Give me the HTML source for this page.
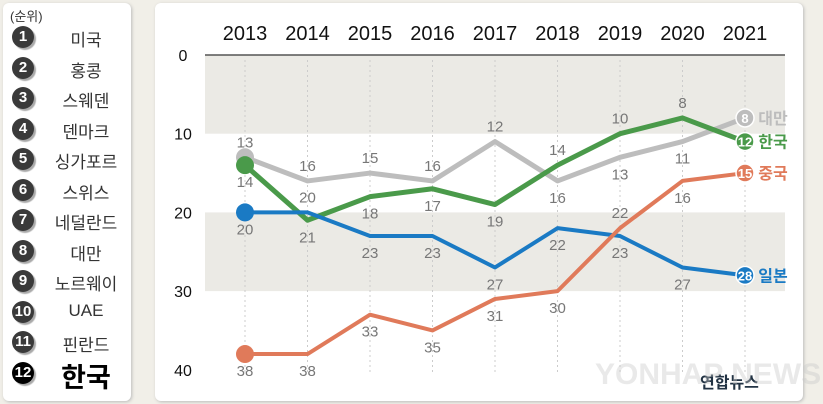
<!DOCTYPE html>
<html><head><meta charset="utf-8"><style>
body{margin:0;width:823px;height:404px;background:#f1efe8;font-family:"Liberation Sans","Noto Sans CJK KR",sans-serif;overflow:hidden;position:relative}
#left{position:absolute;left:3px;top:3px;width:128px;height:398px;background:#fff;border-radius:6px;box-shadow:1px 1px 3px #bbb}
#right{position:absolute;left:155px;top:3px;width:648px;height:398px;background:#fff;border-radius:6px;box-shadow:1px 1px 3px #bbb}
.row{position:absolute;left:10px;width:118px;height:26px;font-size:17px;color:#333}
.num{position:absolute;left:2px;top:2px;width:22px;height:22px;border-radius:50%;background:#3a3a3a;color:#fff;font-size:15px;text-align:center;line-height:22px;font-weight:bold;box-shadow:2px 2px 1px #aaa}
.nm{position:absolute;left:36px;width:80px;text-align:center;top:2px}
</style></head><body>
<div id="left"></div>
<div id="right"></div>
<div style="position:absolute;left:10px;top:6px;font-size:13px;color:#333">(순위)</div>
<div id="rows"></div>
<svg id="chart" width="823" height="404" style="position:absolute;left:0;top:0"></svg>
<script>
const countries=["미국","홍콩","스웨덴","덴마크","싱가포르","스위스","네덜란드","대만","노르웨이","UAE","핀란드","한국"];
const rows=document.getElementById('rows');
countries.forEach((c,i)=>{const d=document.createElement('div');d.className='row';d.style.top=(24+i*30.5)+'px';


const last=i===11;
d.innerHTML='<div class="num" style="'+(last?'background:#000;':'')+'">'+(i+1)+'</div><div class="nm" style="'+(last?'font-size:27px;font-weight:bold;color:#000;top:-4px':'')+'">'+c+'</div>';rows.appendChild(d);});

const years=["2013","2014","2015","2016","2017","2018","2019","2020","2021"];
const yTicks=[0,10,20,30,40];
const taiwan=[13,16,15,16,11,16,13,11,8];
const taiwanLbl=[13,16,15,16,12,16,13,11,8];
const korea=[14,21,18,17,19,14,10,8,11];
const koreaLbl=[14,21,18,17,19,14,10,8,12];
const japan=[20,20,23,23,27,22,23,27,28];
const china=[38,38,33,35,31,30,22,16,15];
const X=i=>245+i*62.5, Y=v=>55+v*7.87;
const s=document.getElementById('chart'),NS='http://www.w3.org/2000/svg';
function el(t,a,n){const e=document.createElementNS(NS,t);for(const k in a)e.setAttribute(k,a[k]);s.appendChild(e);return e;}
function tx(x,y,t,a,n){const e=el('text',Object.assign({x:x,y:y,'text-anchor':'middle'},a),n);e.textContent=t;return e;}
el('rect',{x:205,y:Y(0),width:580,height:Y(10)-Y(0),fill:'#ebeae5'},'band-0-10');
el('rect',{x:205,y:Y(20),width:580,height:Y(30)-Y(20),fill:'#ebeae5'},'band-20-30');
el('line',{x1:205,x2:785,y1:Y(0),y2:Y(0),stroke:'#555','stroke-width':1.5},'top-axis-line');
yTicks.forEach(v=>tx(183,Y(v)+6,v,{'font-size':16,fill:'#111'},'y-tick-label'));
years.forEach((y,i)=>{el('line',{x1:X(i),x2:X(i),y1:Y(0)+5,y2:Y(40)+3,stroke:'#ccc','stroke-dasharray':'2,3'},'grid-line');
tx(X(i),40,y,{'font-size':20,fill:'#111'},'year-label');});
function series(d,lbl,col,w,pos,name,tag){
el('polyline',{points:d.map((v,i)=>X(i)+','+Y(v)).join(' '),fill:'none',stroke:col,'stroke-width':w,'stroke-linejoin':'round'},name+'-line');
el('circle',{cx:X(0),cy:Y(d[0]),r:9,fill:col},name+'-start-dot');
const n=d.length-1;
el('circle',{cx:X(n),cy:Y(d[n]),r:9,fill:col,stroke:'#fff','stroke-width':1.5},name+'-end-dot');
tx(X(n),Y(d[n])+5,lbl[n],{'font-size':13,fill:'#fff','font-weight':'bold'},name+'-end-value');
tx(X(n)+28,Y(d[n])+6,tag,{'font-size':16,fill:col,'font-weight':'bold'},name+'-tag');
for(let i=0;i<n;i++){const up=pos[i]; tx(X(i),up?Y(d[i])-10:Y(d[i])+22,lbl[i],{'font-size':15,fill:'#777'},name+'-value-label');}
}
series(taiwan,taiwanLbl,'#bdbdbd',5,[1,1,1,1,1,0,0,0],'taiwan','대만');
series(korea,koreaLbl,'#4a9a4a',5,[0,0,0,0,0,1,1,1],'korea','한국');
series(japan,japan,'#1a7ac4',4,[0,1,0,0,0,0,0,0],'japan','일본');
series(china,china,'#e07a5a',4,[0,0,0,0,0,0,1,0],'china','중국');
tx(700,388,'연합뉴스',{'font-size':16,fill:'#234','font-weight':'bold','text-anchor':'start'},'logo-text');
tx(595,384,'YONHAP NEWS',{'font-size':30,fill:'rgba(200,200,200,0.4)','font-weight':'bold','text-anchor':'start'},'watermark');
</script>
</body></html>
